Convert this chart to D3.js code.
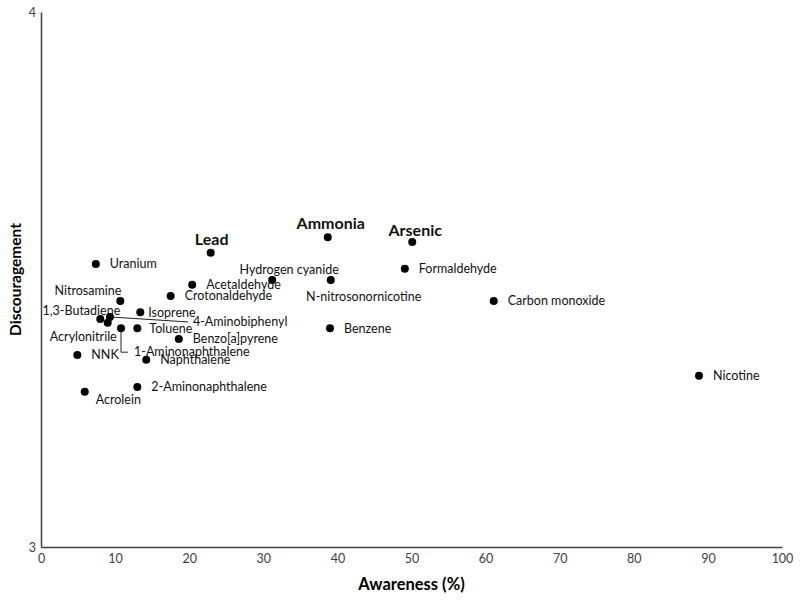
<!DOCTYPE html>
<html><head><meta charset="utf-8">
<script src="https://cdn.jsdelivr.net/npm/d3@7"></script>
<style>body{margin:0;background:#fff}svg{display:block}</style>
</head><body>
<svg id="c" width="800" height="601"></svg>
<script>
const names = ["Uranium","Lead","Ammonia","Arsenic","Formaldehyde","Hydrogen cyanide","N-nitrosonornicotine","Acetaldehyde","Crotonaldehyde","Carbon monoxide","Nitrosamine","Isoprene","1,3-Butadiene","4-Aminobiphenyl","Acrylonitrile","1-Aminonaphthalene","Toluene","Benzo[a]pyrene","Benzene","NNK","Naphthalene","2-Aminonaphthalene","Acrolein","Nicotine"];
const awareness = [7.4,22.9,38.7,50.1,49.1,31.2,39.1,20.4,17.5,61.1,10.7,13.4,8.0,9.3,9.0,10.8,13.0,18.6,39.0,4.9,14.2,13.0,5.9,88.8];
const discouragement = [3.529,3.550,3.579,3.570,3.520,3.499,3.499,3.490,3.469,3.460,3.460,3.439,3.426,3.430,3.419,3.409,3.409,3.389,3.409,3.359,3.350,3.299,3.290,3.320];
const boldNames = ["Lead","Ammonia","Arsenic"];
const xTicks = [0,10,20,30,40,50,60,70,80,90,100];
const yTicks = [3,4];

// label placement (layout only): dx, dy relative to point, anchor
const place = {
  "Lead":{dx:1,dy:-13,a:"middle"},
  "Ammonia":{dx:3,dy:-14,a:"middle"},
  "Arsenic":{dx:3,dy:-12,a:"middle"},
  "Hydrogen cyanide":{dx:17,dy:-10,a:"middle"},
  "N-nitrosonornicotine":{dx:33,dy:17,a:"middle"},
  "Nitrosamine":{dx:1,dy:-10,a:"end"},
  "Isoprene":{dx:8,dy:0,a:"start"},
  "1,3-Butadiene":{dx:20,dy:-8,a:"end"},
  "4-Aminobiphenyl":{dx:83,dy:5,a:"start",leader:"straight"},
  "Acrylonitrile":{dx:9,dy:14,a:"end"},
  "1-Aminonaphthalene":{dx:13,dy:23,a:"start",leader:"elbow"},
  "Toluene":{dx:12,dy:0,a:"start"},
  "Acrolein":{dx:11,dy:8,a:"start"}
};

const svg = d3.select("#c");
const m = {l:41, r:18, t:12, b:54};
const W = 800, H = 601;
const x = d3.scaleLinear().domain([0,100]).range([m.l, W-m.r]);
const y = d3.scaleLinear().domain([3,4]).range([H-m.b, m.t]);
const font = "Lato, 'Open Sans', sans-serif";

// axes
const xAxis = svg.append("g").attr("transform",`translate(0,${y(3)})`)
  .call(d3.axisBottom(x).tickValues(xTicks).tickSize(0).tickPadding(7));
const yAxis = svg.append("g").attr("transform",`translate(${x(0)},0)`)
  .call(d3.axisLeft(y).tickValues(yTicks).tickSize(0).tickPadding(5).tickFormat(d3.format("d")));
[xAxis,yAxis].forEach(g=>{
  g.select(".domain").attr("stroke","#404040").attr("stroke-width",1.5);
  g.selectAll("text").attr("font-family",font).attr("font-size",12.5).attr("fill","#404040");
});

const data = names.map((n,i)=>({n, x:awareness[i], y:discouragement[i]}));

// leaders
data.forEach(d=>{
  const p = place[d.n];
  if(!p || !p.leader) return;
  const px = x(d.x), py = y(d.y);
  if(p.leader==="straight"){
    svg.append("line").attr("x1",px).attr("y1",py).attr("x2",px+p.dx-5).attr("y2",py+p.dy)
      .attr("stroke","#222").attr("stroke-width",1);
  } else {
    svg.append("path").attr("d",`M${px},${py}V${py+p.dy+1}H${px+p.dx-6}`)
      .attr("fill","none").attr("stroke","#222").attr("stroke-width",1);
  }
});

svg.append("g").selectAll("circle").data(data).join("circle")
  .attr("cx",d=>x(d.x)).attr("cy",d=>y(d.y)).attr("r",4).attr("fill","#000");

svg.append("g").selectAll("text").data(data).join("text")
  .attr("x",d=>x(d.x)+(place[d.n]?place[d.n].dx:14))
  .attr("y",d=>y(d.y)+(place[d.n]?place[d.n].dy:0))
  .attr("dy","0.35em")
  .attr("text-anchor",d=>place[d.n]?place[d.n].a:"start")
  .attr("font-family",font)
  .attr("font-size",d=>boldNames.includes(d.n)?16:12.5)
  .attr("font-weight",d=>boldNames.includes(d.n)?"bold":"normal")
  .attr("fill","#111")
  .text(d=>d.n);

svg.append("text").attr("x",(x(0)+x(100))/2).attr("y",590).attr("text-anchor","middle")
  .attr("font-family",font).attr("font-size",16.5).attr("font-weight","bold").text("Awareness (%)");
svg.append("text").attr("transform",`translate(21,${(y(3)+y(4))/2}) rotate(-90)`).attr("text-anchor","middle")
  .attr("font-family",font).attr("font-size",15.5).attr("font-weight","bold").text("Discouragement");
</script>
</body></html>
